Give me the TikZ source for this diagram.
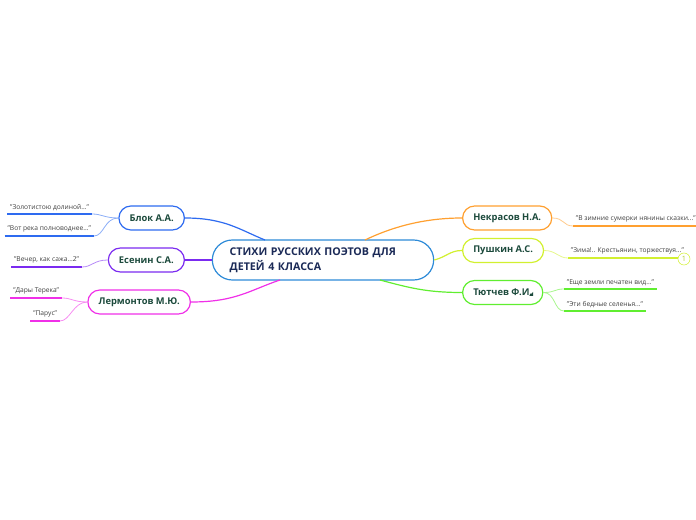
\documentclass[tikz,border=0pt]{standalone}
\usepackage{fontspec}
\setmainfont{Open Sans}
\usepackage{xcolor}

\definecolor{rootc}{HTML}{2E8BD8}
\definecolor{titlec}{HTML}{1B2A57}
\definecolor{namec}{HTML}{1C4A3C}
\definecolor{leafc}{HTML}{404040}
\definecolor{blokc}{HTML}{2E6BF0}
\definecolor{esenc}{HTML}{7B2BF0}
\definecolor{lermc}{HTML}{F030E8}
\definecolor{nekrc}{HTML}{FFA030}
\definecolor{pushc}{HTML}{D2F030}
\definecolor{tyutc}{HTML}{60EE30}

\begin{document}
\begin{tikzpicture}[x=0.75pt,y=-0.75pt,
  topic/.style={draw=#1,line width=0.9pt,rounded corners=9pt,fill=white,
    minimum height=18pt,inner xsep=8pt,text=namec,
    font=\fontsize{7}{8}\selectfont\bfseries},
  leaf/.style={text=leafc,inner xsep=2pt,inner ysep=2.5pt,
    font=\fontsize{5}{6}\selectfont},
  uline/.style={draw=#1,line width=1.5pt},
  branch/.style={draw=#1,line width=0.9pt},
  twig/.style={draw=#1!55,line width=0.6pt}]
  \useasboundingbox (0,0) rectangle (696,520);

  % central topic
  \node[draw=rootc,line width=0.9pt,rounded corners=15pt,fill=white,
    text width=140pt,inner xsep=13pt,minimum height=30pt,align=left,
    text=titlec,font=\fontsize{8}{11}\selectfont\bfseries]
    (root) at (323,260) {СТИХИ РУССКИХ ПОЭТОВ ДЛЯ\\ДЕТЕЙ 4 КЛАССА};
  \coordinate (cB) at (265,240);
  \coordinate (cL) at (280,280);
  \coordinate (cN) at (365,240);
  \coordinate (cT) at (380,280);

  % poets
  \node[topic=blokc,anchor=east] (blok) at (185,218) {Блок А.А.};
  \node[topic=esenc,anchor=east] (esen) at (185,260) {Есенин С.А.};
  \node[topic=lermc,anchor=east] (lerm) at (191,302) {Лермонтов М.Ю.};
  \node[topic=nekrc,anchor=west] (nekr) at (462,218) {Некрасов Н.А.};
  \node[topic=pushc,anchor=west] (push) at (462,250.5) {Пушкин А.С.};
  \node[topic=tyutc,anchor=west] (tyut) at (462,292.5) {Тютчев Ф.И.};
  \fill[namec] (529,296) -- (533,296) -- (533,292) -- cycle;

  \draw[branch=blokc] (blok.east) .. controls +(40,0) and +(-25,-10) .. (cB);
  \draw[branch=esenc] (esen.east) -- (root.west);
  \draw[branch=lermc] (lerm.east) .. controls +(45,0) and +(-30,10) .. (cL);
  \draw[branch=nekrc] (cN) .. controls +(25,-12) and +(-40,0) .. (nekr.west);
  \draw[branch=pushc] (root.east) .. controls +(12,-3) and +(-12,0) .. (push.west);
  \draw[branch=tyutc] (cT) .. controls +(30,8) and +(-35,0) .. (tyut.west);

  % poems, left
  \node[leaf,anchor=south east] (zol) at (92,214) {"Золотистою долиной..."};
  \node[leaf,anchor=south east] (vot) at (94,236) {"Вот река полноводнее..."};
  \node[leaf,anchor=south east] (vech) at (82,267) {"Вечер, как сажа...2"};
  \node[leaf,anchor=south east] (dary) at (62,298) {"Дары Терека"};
  \node[leaf,anchor=south east] (parus) at (60,321) {"Парус"};

  \draw[uline=blokc] (zol.south west) -- (zol.south east);
  \draw[uline=blokc] (vot.south west) -- (vot.south east);
  \draw[uline=esenc] (vech.south west) -- (vech.south east);
  \draw[uline=lermc] (dary.south west) -- (dary.south east);
  \draw[uline=lermc] (parus.south west) -- (parus.south east);

  \draw[twig=blokc] (blok.west) .. controls +(-14,0) and +(10,0) .. (zol.south east);
  \draw[twig=blokc] (blok.west) .. controls +(-14,0) and +(10,0) .. (vot.south east);
  \draw[twig=esenc] (esen.west) .. controls +(-14,0) and +(10,0) .. (vech.south east);
  \draw[twig=lermc] (lerm.west) .. controls +(-14,0) and +(10,0) .. (dary.south east);
  \draw[twig=lermc] (lerm.west) .. controls +(-14,0) and +(10,0) .. (parus.south east);

  % poems, right
  \node[leaf,anchor=south west] (zimn) at (573,226) {"В зимние сумерки нянины сказки..."};
  \node[leaf,anchor=south west] (zima) at (568,258) {"Зима!.. Крестьянин, торжествуя..."};
  \node[leaf,anchor=south west] (esche) at (564,289) {"Еще земли печатен вид..."};
  \node[leaf,anchor=south west] (eti) at (564,311) {"Эти бедные селенья..."};

  \draw[uline=nekrc] (zimn.south west) -- (zimn.south east);
  \draw[uline=pushc] (zima.south west) -- (zima.south east);
  \draw[uline=tyutc] (esche.south west) -- (esche.south east);
  \draw[uline=tyutc] (eti.south west) -- (eti.south east);

  \draw[twig=nekrc] (nekr.east) .. controls +(12,0) and +(-10,0) .. (zimn.south west);
  \draw[twig=pushc] (push.east) .. controls +(12,0) and +(-10,0) .. (zima.south west);
  \draw[twig=tyutc] (tyut.east) .. controls +(12,0) and +(-10,0) .. (esche.south west);
  \draw[twig=tyutc] (tyut.east) .. controls +(12,0) and +(-10,0) .. (eti.south west);

  \node[circle,draw=pushc,fill=white,text=pushc!85!black,inner sep=0pt,
    minimum size=9pt,font=\fontsize{5.5}{6}\selectfont] (badge) at (684,259) {1};
\end{tikzpicture}
\end{document}
